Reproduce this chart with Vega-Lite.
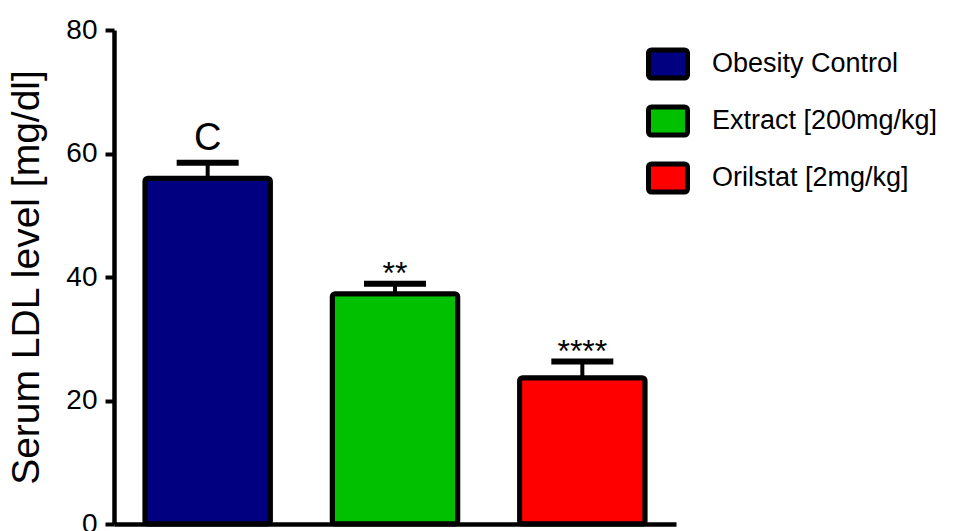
{
  "$schema": "https://vega.github.io/schema/vega-lite/v6.json",
  "width": 562,
  "height": 494,
  "autosize": {"type": "none"},
  "padding": {"left": 114, "top": 30, "right": 290, "bottom": 7},
  "background": "white",
  "config": {
    "view": {"stroke": null},
    "font": "Liberation Sans"
  },
  "data": {
    "values": [
      {"group": "Obesity Control", "value": 56.0, "upper": 58.5, "sig": "C"},
      {"group": "Extract [200mg/kg]", "value": 37.3, "upper": 38.9, "sig": "**"},
      {"group": "Orilstat [2mg/kg]", "value": 23.7, "upper": 26.3, "sig": "****"}
    ]
  },
  "encoding": {
    "x": {
      "field": "group",
      "type": "nominal",
      "sort": null,
      "scale": {"paddingInner": 0.33, "paddingOuter": 0.165},
      "axis": {
        "title": null,
        "labels": false,
        "ticks": false,
        "domainColor": "black",
        "domainWidth": 4.5
      }
    }
  },
  "layer": [
    {
      "mark": {"type": "rule", "color": "black", "strokeWidth": 4},
      "encoding": {
        "y": {"field": "value", "type": "quantitative"},
        "y2": {"field": "upper"}
      }
    },
    {
      "mark": {"type": "tick", "color": "black", "size": 62, "thickness": 6, "opacity": 1},
      "encoding": {
        "y": {"field": "upper", "type": "quantitative"}
      }
    },
    {
      "mark": {"type": "bar", "stroke": "black", "strokeWidth": 5, "cornerRadius": 3, "opacity": 1},
      "encoding": {
        "y": {
          "field": "value",
          "type": "quantitative",
          "scale": {"domain": [0, 80], "nice": false},
          "axis": {
            "title": "Serum LDL level [mg/dl]",
            "titleFont": "Liberation Sans",
            "titleFontSize": 39,
            "titleFontWeight": "normal",
            "titleColor": "black",
            "titlePadding": 19,
            "values": [0, 20, 40, 60, 80],
            "grid": false,
            "domainColor": "black",
            "domainWidth": 4.5,
            "tickColor": "black",
            "tickWidth": 4,
            "tickSize": 9,
            "labelFontSize": 28,
            "labelColor": "black",
            "labelPadding": 8,
            "labelFlush": false
          }
        },
        "fill": {
          "field": "group",
          "type": "nominal",
          "sort": null,
          "scale": {
            "domain": ["Obesity Control", "Extract [200mg/kg]", "Orilstat [2mg/kg]"],
            "range": ["#000080", "#00C000", "#FF0000"]
          },
          "legend": {
            "title": null,
            "orient": "none",
            "legendX": 532,
            "legendY": 12,
            "padding": 0,
            "symbolType": "M-0.85,-0.72 H0.85 A0.15,0.15 0 0 1 1,-0.57 V0.57 A0.15,0.15 0 0 1 0.85,0.72 H-0.85 A0.15,0.15 0 0 1 -1,0.57 V-0.57 A0.15,0.15 0 0 1 -0.85,-0.72 Z",
            "symbolSize": 1521,
            "symbolStrokeColor": "black",
            "symbolStrokeWidth": 5,
            "symbolOpacity": 1,
            "labelFont": "Liberation Sans",
            "labelFontSize": 27,
            "labelColor": "black",
            "labelOffset": 22,
            "labelLimit": 400,
            "rowPadding": 7
          }
        }
      }
    },
    {
      "transform": [{"filter": "datum.sig == 'C'"}],
      "mark": {"type": "text", "fontSize": 38, "color": "black", "baseline": "alphabetic", "dy": -13},
      "encoding": {
        "y": {"field": "upper", "type": "quantitative"},
        "text": {"field": "sig"}
      }
    },
    {
      "transform": [{"filter": "datum.sig != 'C'"}],
      "mark": {"type": "text", "fontSize": 32, "color": "black", "baseline": "alphabetic", "dy": 0},
      "encoding": {
        "y": {"field": "upper", "type": "quantitative"},
        "text": {"field": "sig"}
      }
    }
  ]
}
